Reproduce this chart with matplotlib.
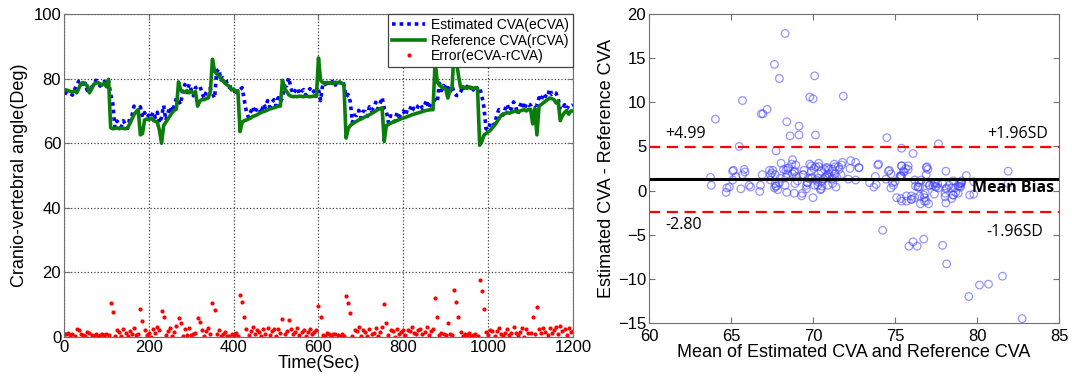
import matplotlib.pyplot as plt
import numpy as np

plt.rcParams['font.family'] = ['Liberation Sans', 'DejaVu Sans']

# sample times (every 5 s over the 20 min recording)
time_sec = np.arange(0, 1205, 5)

# reference CVA (deg)
ref_cva = [
    76.6, 76.5, 76.3, 76.0, 75.8, 76.2, 75.6, 77.0, 78.5, 78.8, 78.3, 77.8, 75.6, 76.8, 78.2, 78.6, 78.8, 78.4, 78.0, 78.6,
    77.5, 79.8, 64.8, 64.5, 64.6, 64.8, 64.5, 64.7, 64.6, 64.5, 64.8, 66.0, 67.5, 68.8, 69.8, 70.4, 62.6, 63.0, 67.2, 67.5,
    67.3, 67.8, 67.2, 66.8, 66.5, 64.0, 60.0, 65.5, 66.5, 67.5, 68.5, 69.5, 70.2, 70.6, 79.0, 76.5, 76.2, 75.8, 76.3, 75.6,
    76.0, 75.5, 76.0, 71.5, 73.0, 73.5, 73.5, 73.8, 74.0, 76.0, 86.0, 82.3, 81.5, 80.8, 80.0, 79.3, 78.5, 78.0, 77.6, 76.5,
    76.8, 76.0, 76.3, 63.6, 66.5, 67.0, 67.2, 67.5, 67.8, 68.3, 68.5, 68.8, 69.2, 69.5, 69.8, 70.0, 70.3, 70.6, 70.8, 71.0,
    71.2, 71.5, 71.5, 79.5, 77.0, 76.0, 75.0, 74.6, 74.4, 74.5, 74.4, 74.6, 74.5, 74.4, 74.6, 74.5, 74.4, 74.5, 74.6, 74.5,
    86.4, 79.5, 78.8, 78.5, 78.8, 78.6, 78.8, 78.5, 78.9, 78.7, 79.0, 78.6, 78.0, 61.6, 64.5, 65.5, 66.0, 66.4, 66.8, 67.2,
    67.5, 67.8, 68.2, 68.5, 68.8, 69.2, 69.6, 70.0, 70.4, 70.7, 71.0, 60.6, 65.5, 65.8, 66.2, 66.5, 66.8, 67.0, 67.3, 67.6,
    67.8, 68.0, 68.3, 68.5, 68.8, 69.0, 69.2, 69.4, 69.6, 69.8, 70.0, 70.2, 70.3, 70.4, 70.4, 85.5, 79.0, 78.0, 77.5, 77.0,
    76.8, 74.0, 76.5, 77.2, 90.0, 85.5, 81.0, 77.3, 77.5, 77.2, 77.0, 77.4, 77.3, 77.0, 77.2, 77.0, 59.4, 60.5, 62.5, 63.0,
    63.5, 64.0, 64.8, 65.5, 66.5, 67.5, 68.5, 69.0, 69.2, 69.5, 69.3, 69.6, 69.8, 70.0, 69.6, 70.0, 70.2, 70.4, 70.0, 70.5,
    70.5, 66.0, 70.8, 62.6, 71.5, 72.0, 72.5, 73.0, 73.5, 74.0, 73.8, 73.5, 72.5, 73.0, 67.0, 68.5, 69.5, 70.0, 69.0, 70.0, 70.0,
]

# eCVA - rCVA (deg) at the same times
cva_diff = [
    -0.8, -1.0, -1.2, -0.6, -0.9, 0.4, 2.6, 2.2, 0.8, -0.5, 0.3, -1.5, 1.2, 0.6, -0.3, 0.9, 0.4, -0.7, 1.1, 0.5,
    0.8, -0.5, 10.4, 7.8, 0.3, 2.1, 1.6, 0.4, 2.4, 1.2, -0.2, 1.8, 0.9, 2.7, 0.6, -0.8, 8.7, 5.0, 2.3, 0.5,
    1.4, 0.1, 2.5, 1.2, 3.1, 2.2, 8.1, 6.2, 0.6, 1.9, 2.8, 0.2, 1.5, 3.4, -5.8, -4.5, 0.4, 2.4, -0.6, 2.7,
    0.5, -0.8, 1.2, 6.0, 4.8, 2.3, 0.4, 1.9, 2.8, 0.9, -10.6, -8.3, 0.8, 2.2, -0.4, 1.0, 1.7, 0.3, -0.4, 0.9,
    0.6, -1.2, 0.4, 13.0, 10.7, 6.3, 2.6, 0.5, 1.9, 3.0, 0.8, 2.2, 1.5, -0.3, 2.4, 1.1, 2.9, 0.6, 1.8, 2.5,
    0.4, 2.6, 1.3, -5.5, 0.8, 1.8, 5.3, 2.4, 0.9, 1.7, 2.8, 0.6, 1.6, 2.2, 0.3, 1.7, 2.5, 1.0, 1.6, 2.1,
    -9.7, -6.3, -0.5, 0.3, -1.4, 0.8, -0.2, 1.1, -0.9, 0.5, -0.3, 0.9, 0.2, 12.7, 10.6, 7.3, 0.4, 2.3, 1.8, 3.0,
    0.3, 2.1, 1.6, -0.2, 2.5, 0.9, 1.4, 2.7, 0.2, 1.5, 3.2, 10.2, 4.5, 0.6, 2.3, 1.8, -0.1, 2.4, 0.8, 1.5,
    2.2, 0.6, 2.3, 1.8, 3.1, 1.4, 0.9, 2.2, 2.6, 1.0, 1.7, 3.2, 0.5, 1.9, 2.4, -12.0, -6.3, 0.6, -1.2, 0.9,
    -0.6, 4.2, -1.0, 0.5, -14.5, -10.7, -6.2, -1.5, 0.3, -0.8, 0.6, -1.2, 0.4, -0.5, 0.8, -0.3, 17.8, 14.3, 8.7, 1.5,
    0.6, 2.3, 1.8, 0.2, 2.0, 2.9, 1.1, -0.3, 1.4, 2.6, 0.6, 1.2, 3.0, 1.3, -0.6, 1.5, 2.7, 0.1, 2.4, 1.3,
    1.4, 6.3, 0.8, 9.2, 2.6, 1.2, 2.9, 1.6, 0.7, 2.8, 1.3, 2.2, 3.0, 0.9, 3.5, 1.8, 2.4, 0.6, 2.7, 1.5, 1.9,
]

# Bland-Altman lines as drawn, and their labels
upper_loa = 4.99
mean_bias = 1.3
lower_loa = -2.4
upper_label = '+4.99'
lower_label = '-2.80'

ref_cva = np.array(ref_cva)
cva_diff = np.array(cva_diff)
est_cva = ref_cva + cva_diff
ba_mean = (est_cva + ref_cva) / 2

fig = plt.figure(figsize=(10.72, 3.8), dpi=100)
ax1 = fig.add_axes([0.0597, 0.113, 0.4748, 0.850])
ax2 = fig.add_axes([0.6054, 0.150, 0.3825, 0.813])

spine_col = '#707070'

# left: time series
ax1.plot(time_sec, est_cva, color='blue', ls=(0, (1, 1.1)), lw=2.6, label='Estimated CVA(eCVA)')
ax1.plot(time_sec, ref_cva, color='#0b7d0b', lw=2.6, label='Reference CVA(rCVA)')
ax1.plot(time_sec, np.abs(cva_diff), '.', color='red', ms=4, label='Error(eCVA-rCVA)')
ax1.set_xlim(0, 1200)
ax1.set_ylim(0, 100)
ax1.set_xticks([0, 200, 400, 600, 800, 1000, 1200])
ax1.set_yticks([0, 20, 40, 60, 80, 100])
ax1.grid(True, ls=':', color='#404040', lw=0.9)
ax1.set_xlabel('Time(Sec)', fontsize=13, labelpad=0)
ax1.set_ylabel('Cranio-vertebral angle(Deg)', fontsize=13, labelpad=4)
leg = ax1.legend(loc='upper right', borderaxespad=0, fancybox=False, fontsize=10,
                 edgecolor='#444444', framealpha=1, handlelength=2.4,
                 labelspacing=0.1, borderpad=0.3, handletextpad=0.4)
leg.get_frame().set_linewidth(0.9)

# right: Bland-Altman
ax2.scatter(ba_mean, cva_diff, s=30, facecolors='none', edgecolors='#3f3fff',
            alpha=0.55, linewidths=0.9)
ax2.axhline(upper_loa, color='red', ls=(0, (5, 3)), lw=1.6)
ax2.axhline(lower_loa, color='red', ls=(0, (5, 3)), lw=1.6)
ax2.axhline(mean_bias, color='black', lw=2.2)
ax2.set_xlim(60, 85)
ax2.set_ylim(-15, 20)
ax2.set_xticks([60, 65, 70, 75, 80, 85])
ax2.set_yticks([-15, -10, -5, 0, 5, 10, 15, 20])
ax2.set_xlabel('Mean of Estimated CVA and Reference CVA', fontsize=13, labelpad=0)
ax2.set_ylabel('Estimated CVA - Reference CVA', fontsize=13, labelpad=2)

ann_font = ['Open Sans', 'DejaVu Sans']
ax2.text(61.0, 6.45, upper_label, fontsize=11.5, family=ann_font, va='center')
ax2.text(80.6, 6.45, '+1.96SD', fontsize=11.5, family=ann_font, va='center')
ax2.text(61.0, -3.95, lower_label, fontsize=11.5, family=ann_font, va='center')
ax2.text(80.6, -4.65, '-1.96SD', fontsize=11.5, family=ann_font, va='center')
ax2.text(84.7, 0.25, 'Mean Bias', fontsize=11.5, family=ann_font, weight='bold',
         va='center', ha='right')

for ax in (ax1, ax2):
    ax.tick_params(direction='in', top=True, right=True, length=4, labelsize=12,
                   color=spine_col, pad=2)
    for s in ax.spines.values():
        s.set_color(spine_col)
ax2.tick_params(axis='x', pad=4)

fig.savefig('out.png', dpi=100)
